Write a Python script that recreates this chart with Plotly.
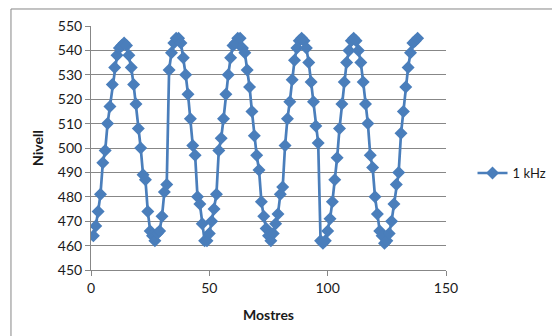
import plotly.graph_objects as go

seg1 = [464, 468, 474, 481, 494, 499, 510, 517, 526, 533, 538, 541, 542, 543, 542, 538,
        533, 526, 518, 508, 500, 489, 487, 474, 466, 464, 462, 465, 466, 472, 482, 485]
seg2 = [532, 539, 543, 545, 545, 543, 537, 530, 522, 512, 501, 497, 480, 477, 469, 462,
        462, 465, 470, 475, 481, 499, 504, 512, 522, 530, 537, 542, 543, 545, 545, 541,
        539, 532, 525, 515, 505, 497, 491, 478, 472, 467, 464, 462, 465, 469, 473, 481,
        484, 501, 512, 519, 528, 536, 541, 544, 545, 544, 541, 535, 527, 519, 509, 502]
seg3 = [462, 461, 462, 466, 471, 478, 487, 496, 508, 518, 527, 535, 540, 544, 545, 544,
        540, 535, 527, 518, 510, 497, 492, 480, 473, 466, 464, 461, 462, 465, 470, 477,
        485, 490, 506, 515, 525, 533, 539, 543, 544, 545]
nivell = seg1 + seg2 + seg3
mostres = list(range(1, len(nivell) + 1))

x_ticks = [0, 50, 100, 150]
y_ticks = list(range(450, 551, 10))
series_name = "1 kHz"

BLUE = "#4A7EBB"
GRID = "#878787"
FONT = "Lato, Carlito, 'Liberation Sans', sans-serif"

fig = go.Figure()
fig.add_trace(go.Scatter(
    x=mostres, y=nivell, mode="lines+markers", name=series_name,
    line=dict(color=BLUE, width=2.7),
    marker=dict(symbol="diamond", size=10, color=BLUE),
))

fig.update_layout(
    width=552, height=336,
    margin=dict(l=91, r=106, t=26, b=66, autoexpand=False),
    paper_bgcolor="white", plot_bgcolor="white",
    font=dict(family=FONT, size=14, color="#1a1a1a"),
    showlegend=True,
    legend=dict(xref="container", yref="container", x=0.856, y=0.485,
                xanchor="left", yanchor="middle",
                font=dict(size=13), itemwidth=30, bgcolor="rgba(0,0,0,0)"),
    xaxis=dict(range=[0, 150], tickvals=x_ticks, showgrid=False, zeroline=False,
               showline=True, linecolor=GRID, linewidth=1,
               ticks="outside", ticklen=5, tickcolor=GRID,
               title=dict(text="<b>Mostres</b>", standoff=15, font=dict(size=14))),
    yaxis=dict(range=[450, 550], tickvals=y_ticks, showgrid=True, gridcolor=GRID,
               gridwidth=1, zeroline=False, showline=True, linecolor=GRID, linewidth=1,
               ticks="outside", ticklen=5, tickcolor=GRID,
               title=dict(text="<b>Nivell</b>", standoff=10, font=dict(size=14))),
    shapes=[dict(type="rect", xref="paper", yref="paper",
                 x0=-0.2254, x1=1.6, y0=-0.5, y1=1.0697,
                 line=dict(color=GRID, width=1), fillcolor="rgba(0,0,0,0)", layer="below")],
)

fig.write_html("out.html")
